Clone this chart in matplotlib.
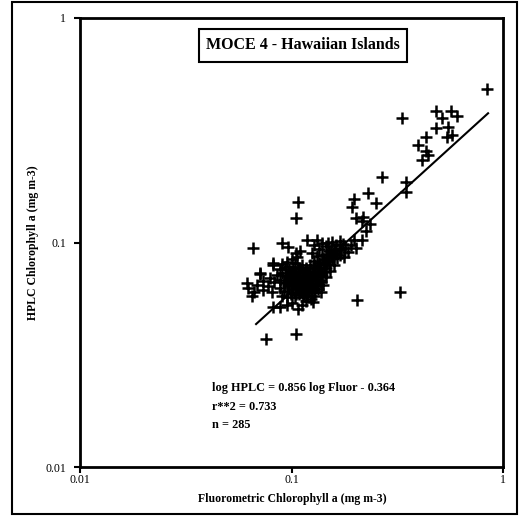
import matplotlib
matplotlib.use("Agg")
import matplotlib.pyplot as plt
from matplotlib.patches import Rectangle
import numpy as np

plt.rcParams['font.family'] = ['Liberation Serif', 'DejaVu Serif']

# ---- data ----
title = "MOCE 4 - Hawaiian Islands"
x_label = "Fluorometric Chlorophyll a (mg m-3)"
y_label = "HPLC Chlorophyll a (mg m-3)"
tick_values = [0.01, 0.1, 1]
tick_labels = ["0.01", "0.1", "1"]

slope = 0.856
intercept = -0.364
fit_x_range = [0.068, 0.85]
stats_lines = ["log HPLC = 0.856 log Fluor - 0.364", "r**2 = 0.733", "n = 285"]

# outliers / sparse points
fluor_sparse = [0.84, 0.333, 0.482, 0.567, 0.607, 0.515, 0.482, 0.55, 0.543, 0.574,
                0.433, 0.396, 0.433, 0.442, 0.414, 0.268, 0.347, 0.347, 0.230, 0.197,
                0.251, 0.193, 0.107, 0.105, 0.202, 0.218, 0.235, 0.215, 0.225, 0.215,
                0.197, 0.202, 0.326, 0.204, 0.105, 0.0757]
hplc_sparse = [0.483, 0.359, 0.385, 0.385, 0.366, 0.359, 0.324, 0.327, 0.295, 0.301,
               0.295, 0.272, 0.256, 0.245, 0.233, 0.196, 0.186, 0.168, 0.166, 0.156,
               0.150, 0.144, 0.151, 0.1285, 0.1285, 0.130, 0.121, 0.1245, 0.1125, 0.1026,
               0.1026, 0.0945, 0.0602, 0.0554, 0.0391, 0.0372]

# left tail and edge of the cluster
fluor_edge = [0.0617, 0.0625, 0.065, 0.071, 0.0733, 0.079, 0.0818, 0.0687, 0.081, 0.0658,
              0.090, 0.096, 0.106, 0.0818, 0.071, 0.082, 0.088, 0.0952, 0.112, 0.126,
              0.118, 0.132, 0.0733, 0.0775, 0.0668]
hplc_edge = [0.066, 0.0627, 0.0578, 0.0731, 0.0673, 0.0695, 0.081, 0.0647, 0.0602, 0.0945,
             0.0995, 0.0955, 0.0862, 0.0794, 0.0724, 0.0516, 0.0516, 0.0527, 0.0527, 0.0543,
             0.1026, 0.1026, 0.0615, 0.0640, 0.0600]

# dense cluster
fluor_core = [
    0.140, 0.148, 0.155, 0.162, 0.170, 0.175, 0.180, 0.168, 0.158, 0.150, 0.145, 0.135, 0.128, 0.160, 0.170, 0.178, 0.185, 0.192, 0.165,
    0.105, 0.110, 0.125, 0.132, 0.140, 0.148, 0.155,
    0.090, 0.095, 0.100, 0.104, 0.128, 0.135, 0.142, 0.150, 0.158, 0.145,
    0.088, 0.093, 0.097, 0.102, 0.107, 0.112, 0.117, 0.122, 0.127, 0.132, 0.137, 0.142, 0.152,
    0.085, 0.090, 0.095, 0.099, 0.104, 0.109, 0.114, 0.119, 0.124, 0.129, 0.134, 0.139, 0.146,
    0.083, 0.088, 0.093, 0.097, 0.102, 0.106, 0.111, 0.116, 0.121, 0.126, 0.131, 0.136, 0.141,
    0.088, 0.092, 0.096, 0.100, 0.105, 0.110, 0.114, 0.119, 0.124, 0.129, 0.134, 0.138,
    0.090, 0.095, 0.099, 0.104, 0.108, 0.113, 0.118, 0.123, 0.128,
    0.101, 0.117, 0.107,
    0.098, 0.103, 0.108, 0.113, 0.118, 0.123, 0.096, 0.101, 0.106, 0.111, 0.116, 0.121,
    0.099, 0.104, 0.109, 0.114, 0.119, 0.100, 0.105, 0.110, 0.115, 0.120, 0.125,
    0.092, 0.097, 0.102, 0.107, 0.112, 0.117, 0.094, 0.099, 0.110, 0.120, 0.130, 0.138,
    0.143, 0.150, 0.156, 0.163, 0.147, 0.153, 0.160, 0.172,
    0.101, 0.106, 0.111, 0.116, 0.121, 0.126, 0.131, 0.103, 0.108, 0.113, 0.118, 0.123,
    0.098, 0.103, 0.109, 0.115, 0.121, 0.127, 0.133, 0.137, 0.142, 0.147,
]
hplc_core = [
    0.100, 0.099, 0.101, 0.097, 0.102, 0.098, 0.095, 0.093, 0.094, 0.092, 0.096, 0.094, 0.097, 0.089, 0.088, 0.086, 0.091, 0.097, 0.085,
    0.090, 0.092, 0.090, 0.087, 0.088, 0.086, 0.087,
    0.080, 0.082, 0.084, 0.081, 0.083, 0.081, 0.082, 0.080, 0.079, 0.077,
    0.076, 0.078, 0.076, 0.078, 0.077, 0.079, 0.077, 0.079, 0.077, 0.078, 0.076, 0.074, 0.075,
    0.072, 0.073, 0.071, 0.074, 0.072, 0.074, 0.071, 0.073, 0.071, 0.073, 0.071, 0.072, 0.070,
    0.067, 0.068, 0.066, 0.069, 0.067, 0.069, 0.066, 0.068, 0.066, 0.068, 0.066, 0.068, 0.065,
    0.063, 0.061, 0.064, 0.062, 0.064, 0.061, 0.063, 0.061, 0.063, 0.060, 0.062, 0.060,
    0.058, 0.057, 0.059, 0.057, 0.059, 0.057, 0.058, 0.056, 0.058,
    0.054, 0.055, 0.0505,
    0.070, 0.069, 0.070, 0.069, 0.070, 0.069, 0.065, 0.064, 0.065, 0.064, 0.065, 0.064,
    0.075, 0.074, 0.075, 0.074, 0.075, 0.060, 0.059, 0.060, 0.059, 0.060, 0.061,
    0.067, 0.066, 0.067, 0.066, 0.067, 0.066, 0.072, 0.073, 0.076, 0.073, 0.070, 0.067,
    0.084, 0.083, 0.085, 0.090, 0.089, 0.091, 0.092, 0.094,
    0.062, 0.063, 0.062, 0.063, 0.062, 0.063, 0.064, 0.068, 0.068, 0.068, 0.068, 0.068,
    0.071, 0.072, 0.072, 0.072, 0.072, 0.073, 0.074, 0.079, 0.080, 0.083,
]

fluor = fluor_sparse + fluor_edge + fluor_core
hplc = hplc_sparse + hplc_edge + hplc_core

# ---- figure ----
W, H = 523, 516
fig = plt.figure(figsize=(W / 100, H / 100), dpi=100)
ax = fig.add_axes([80 / W, 1 - 467 / H, 423 / W, 449 / H])

ax.set_xscale('log')
ax.set_yscale('log')
ax.set_xlim(0.01, 1)
ax.set_ylim(0.01, 1)

ax.plot(fluor, hplc, linestyle='none', marker='+', markersize=8, markeredgewidth=1.8, color='black')

fx = np.array(fit_x_range)
fy = 10 ** (slope * np.log10(fx) + intercept)
ax.plot(fx, fy, color='black', lw=1.5)

ax.set_xticks(tick_values)
ax.set_xticklabels(tick_labels)
ax.set_yticks(tick_values)
ax.set_yticklabels(tick_labels)
ax.minorticks_off()
ax.tick_params(direction='out', length=4, width=1.5, labelsize=8.5)
ax.tick_params(axis='x', pad=1)
ax.tick_params(axis='y', pad=6)
for s in ax.spines.values():
    s.set_linewidth(2)

# axis titles placed as in the reference
fig.text(292 / W, 1 - 499 / H, x_label, ha='center', va='center', fontsize=8.5, fontweight='bold')
fig.text(33 / W, 1 - 243 / H, y_label, ha='center', va='center', rotation=90,
         fontsize=8.5, fontweight='bold')

# title box
fig.add_artist(Rectangle((199 / W, 1 - 62 / H), 208 / W, 33 / H, transform=fig.transFigure,
                         fill=True, facecolor='white', edgecolor='black', lw=1.5, zorder=5))
fig.text(303 / W, 1 - 45 / H, title, ha='center', va='center', fontsize=11.5,
         fontweight='bold', zorder=6)

# stats text
for i, line in enumerate(stats_lines):
    fig.text(212 / W, 1 - (388 + 18.5 * i) / H, line, ha='left', va='center',
             fontsize=8.8, fontweight='bold')

# outer border
fig.add_artist(Rectangle((12 / W, 2 / H), 505 / W, 512 / H, transform=fig.transFigure,
                         fill=False, edgecolor='black', lw=1.5))

fig.savefig('out.png', dpi=100)
